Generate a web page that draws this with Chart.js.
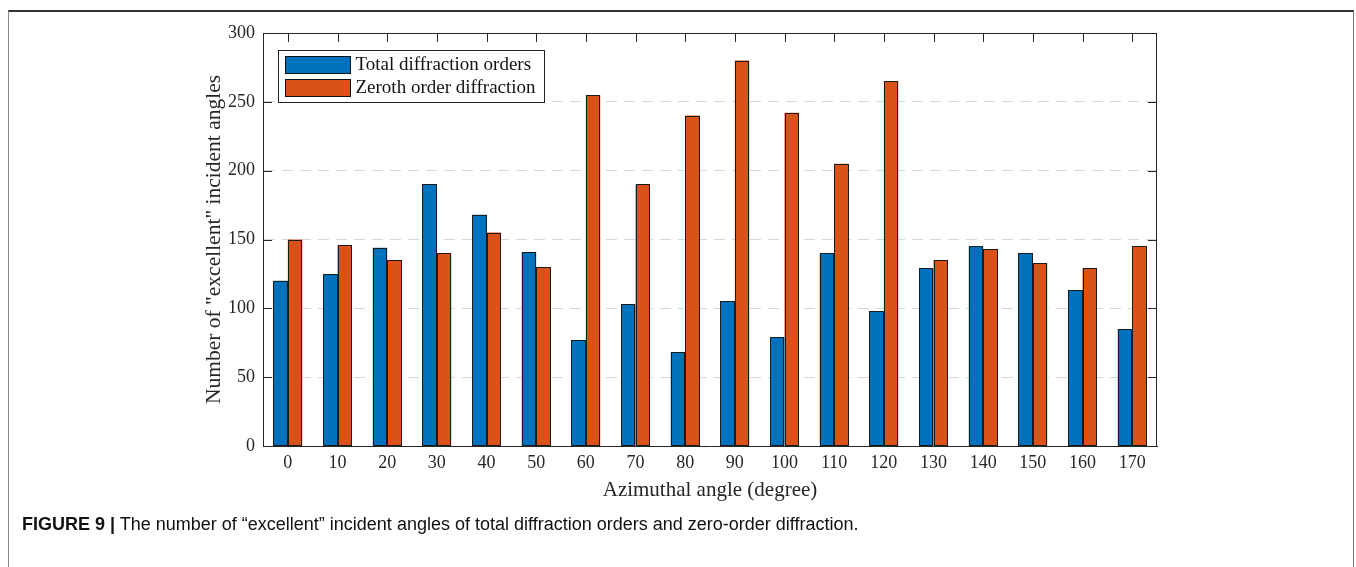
<!DOCTYPE html>
<html>
<head>
<meta charset="utf-8">
<script src="https://cdn.jsdelivr.net/npm/chart.js@4.4.1/dist/chart.umd.min.js"></script>
<style>
  html, body { margin: 0; padding: 0; background: #fff; }
  #wrap { position: relative; width: 1356px; height: 567px; overflow: hidden; }
  #frame { position: absolute; left: 8px; top: 10px; width: 1346px; height: 600px;
           border-top: 2px solid #333; border-left: 1px solid #888; border-right: 1px solid #777; box-sizing: border-box; }
  #c { position: absolute; left: 0; top: 0; }
  #caption { position: absolute; left: 22px; top: 514px; font-family: "Liberation Sans", Arial, sans-serif;
             font-size: 18px; color: #111; white-space: nowrap; }
  #caption b { font-weight: bold; }
</style>
</head>
<body>
<div id="wrap">
  <div id="frame"></div>
  <canvas id="c" width="1356" height="520"></canvas>
  <div id="caption"><b>FIGURE 9 |</b> The number of “excellent” incident angles of total diffraction orders and zero-order diffraction.</div>
</div>
<script>
const categories = ["0","10","20","30","40","50","60","70","80","90","100","110","120","130","140","150","160","170"];
const totalOrders = [120,125,144,190,168,141,77,103,68,105,79,140,98,129,145,140,113,85];
const zerothOrder = [150,146,135,140,155,130,255,190,240,280,242,205,265,135,143,133,129,145];
const seriesLabels = ["Total diffraction orders", "Zeroth order diffraction"];
const yTicks = [0,50,100,150,200,250,300];

const AX = '#262626';
const SERIF = '"Liberation Serif", "Times New Roman", serif';

const framePlugin = {
  id: 'matlabFrame',
  beforeDatasetsDraw(chart) {
    const {ctx, chartArea: a, scales} = chart;
    ctx.save();
    ctx.strokeStyle = AX; ctx.lineWidth = 1;
    ctx.beginPath();
    categories.forEach((c, i) => {
      const x = Math.round(scales.x.getPixelForValue(i)) + 0.5;
      ctx.moveTo(x, a.bottom); ctx.lineTo(x, a.bottom - 9);
    });
    ctx.stroke();
    ctx.restore();
  },
  afterDatasetsDraw(chart) {
    const {ctx} = chart;
    ctx.save();
    ctx.strokeStyle = '#1a1a1a'; ctx.lineWidth = 1;
    chart.data.datasets.forEach((ds, di) => {
      chart.getDatasetMeta(di).data.forEach(bar => {
        const p = bar.getProps(['x', 'y', 'base', 'width'], true);
        const l = Math.round(p.x - p.width / 2) + 0.5;
        const r = Math.round(p.x + p.width / 2) - 0.5;
        const t = Math.round(p.y) + 0.5;
        const b = Math.round(p.base) - 0.5;
        ctx.strokeRect(l, t, r - l, b - t);
      });
    });
    ctx.restore();
  },
  afterDraw(chart) {
    const {ctx, chartArea: a, scales} = chart;
    ctx.save();
    ctx.strokeStyle = AX; ctx.lineWidth = 1;
    ctx.beginPath();
    ctx.moveTo(a.left, Math.round(a.top) + 0.5); ctx.lineTo(a.right, Math.round(a.top) + 0.5);
    ctx.moveTo(Math.round(a.right) - 0.5, a.top); ctx.lineTo(Math.round(a.right) - 0.5, a.bottom);
    categories.forEach((c, i) => {
      const x = Math.round(scales.x.getPixelForValue(i)) + 0.5;
      ctx.moveTo(x, a.top); ctx.lineTo(x, a.top + 9);
    });
    yTicks.forEach(v => {
      if (v === 0 || v === 300) return;
      const y = Math.round(scales.y.getPixelForValue(v)) + 0.5;
      ctx.moveTo(a.left, y); ctx.lineTo(a.left + 9, y);
      ctx.moveTo(a.right, y); ctx.lineTo(a.right - 9, y);
    });
    ctx.stroke();

    // legend
    const bx = a.left + 15.5, by = a.top + 17.5, bw = 266, bh = 52;
    ctx.fillStyle = '#fff';
    ctx.fillRect(bx, by, bw, bh);
    ctx.strokeStyle = '#222';
    ctx.strokeRect(bx, by, bw, bh);
    ctx.font = '19px ' + SERIF;
    ctx.textBaseline = 'middle';
    chart.data.datasets.forEach((ds, i) => {
      const sy = by + 6 + i * 23;
      ctx.fillStyle = ds.backgroundColor;
      ctx.fillRect(bx + 7, sy, 65, 17);
      ctx.strokeStyle = '#111';
      ctx.strokeRect(bx + 7, sy, 65, 17);
      ctx.fillStyle = '#111';
      ctx.fillText(ds.label, bx + 77, sy + 9);
    });
    ctx.restore();
  }
};

new Chart(document.getElementById('c'), {
  type: 'bar',
  data: {
    labels: categories,
    datasets: [
      { label: seriesLabels[0], data: totalOrders, backgroundColor: '#0072BD', borderWidth: 0 },
      { label: seriesLabels[1], data: zerothOrder, backgroundColor: '#D95319', borderWidth: 0 }
    ]
  },
  options: {
    responsive: false,
    animation: false,
    devicePixelRatio: 1,
    layout: { padding: { left: 201, right: 199, top: 33, bottom: 0 } },
    plugins: { legend: { display: false }, tooltip: { enabled: false }, title: { display: false } },
    datasets: { bar: { categoryPercentage: 0.58, barPercentage: 1.0, inflateAmount: 0 } },
    scales: {
      x: {
        type: 'category',
        offset: true,
        grid: { display: false, drawTicks: false },
        border: { display: true, color: AX, width: 1 },
        ticks: { color: AX, font: { family: SERIF, size: 18 }, padding: 6, maxRotation: 0 },
        title: { display: true, text: 'Azimuthal angle (degree)', color: AX,
                 font: { family: SERIF, size: 21, lineHeight: 1.2 }, padding: { top: 0, bottom: 17 } },
        afterFit(s) { s.height = 74; }
      },
      y: {
        min: 0, max: 300,
        afterBuildTicks(s) { s.ticks = yTicks.map(v => ({ value: v })); },
        grid: {
          drawTicks: false,
          color: c => (c.tick && (c.tick.value === 0 || c.tick.value === 300)) ? 'rgba(0,0,0,0)' : '#d8d8d8',
          lineWidth: 1
        },
        border: { display: true, color: AX, width: 1, dash: [11, 7] },
        ticks: { color: AX, font: { family: SERIF, size: 18 }, padding: 8 },
        title: { display: true, text: 'Number of "excellent" incident angles', color: AX,
                 font: { family: SERIF, size: 21.5, lineHeight: 1.2 }, padding: { top: 0, bottom: 0 } },
        afterFit(s) { s.width = 62; }
      }
    }
  },
  plugins: [framePlugin]
});
</script>
</body>
</html>
